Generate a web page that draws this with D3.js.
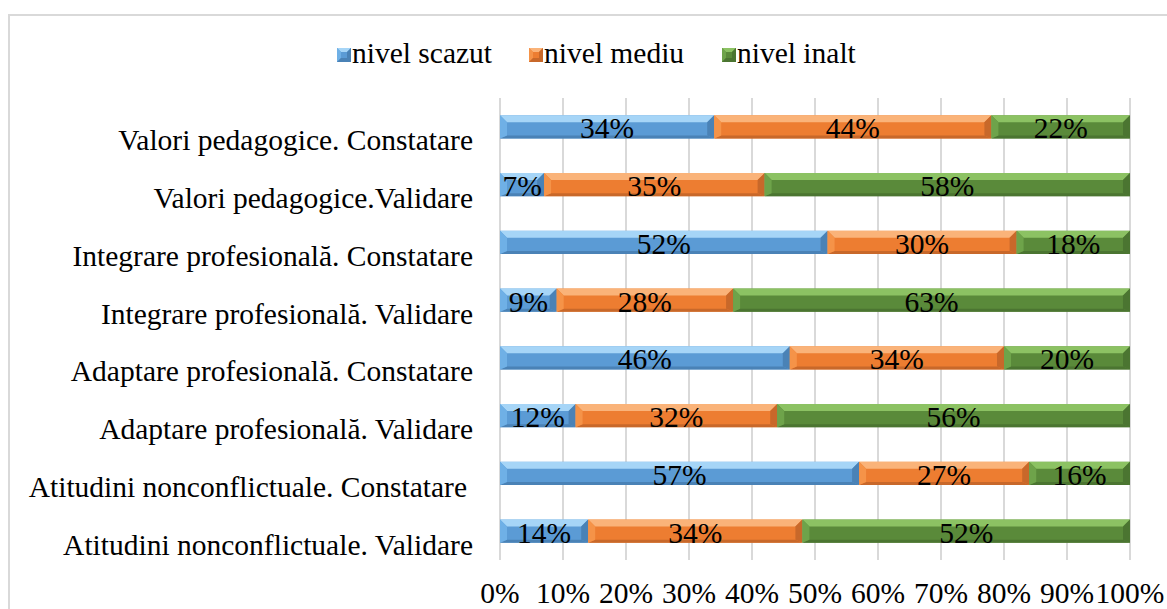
<!DOCTYPE html>
<html>
<head>
<meta charset="utf-8">
<script src="https://cdn.jsdelivr.net/npm/d3@7"></script>
<style>
  body { margin: 0; background: #fff; }
  text { font-family: "Liberation Serif", serif; }
</style>
</head>
<body>
<div id="chart"></div>
<script>
// categories top -> bottom
var categories = [
    "Valori pedagogice. Constatare",
    "Valori pedagogice.Validare",
    "Integrare profesională. Constatare",
    "Integrare profesională. Validare",
    "Adaptare profesională. Constatare",
    "Adaptare profesională. Validare",
    "Atitudini nonconflictuale. Constatare",
    "Atitudini nonconflictuale. Validare"
];
var series_names = ["nivel scazut", "nivel mediu", "nivel inalt"];
var scazut = [34, 7, 52, 9, 46, 12, 57, 14];
var mediu  = [44, 35, 30, 28, 34, 32, 27, 34];
var inalt  = [22, 58, 18, 63, 20, 56, 16, 52];
var ticks = [0, 10, 20, 30, 40, 50, 60, 70, 80, 90, 100];

// main, top highlight, bottom shadow, end bevel
var colors = [
    {main: "#5b9bd5", top: "#a6d5f7", bottom: "#4a82b6", end: "#6fb0e6"},
    {main: "#ed7d31", top: "#fab379", bottom: "#c8682a", end: "#f59348"},
    {main: "#5a8a3a", top: "#8cc263", bottom: "#4b7531", end: "#6ea34a"}
];

var width = 1167, height = 609;
var margin = {top: 98, left: 500, right: 37, bottom: 49};
var font = "Liberation Serif";
var fs = 29.5;

var svg = d3.select("#chart").append("svg")
    .attr("width", width)
    .attr("height", height);

// outer frame
svg.append("rect")
    .attr("x", 9).attr("y", 15)
    .attr("width", 1170).attr("height", 620)
    .attr("fill", "none")
    .attr("stroke", "#d9d9d9")
    .attr("stroke-width", 2);

var x = d3.scaleLinear().domain([0, 100]).range([margin.left, width - margin.right]);
var y = d3.scaleBand().domain(categories)
    .range([margin.top, height - margin.bottom])
    .paddingInner(0.6).paddingOuter(0.3);

// gridlines
svg.append("g").selectAll("line")
    .data(ticks)
    .enter().append("line")
    .attr("x1", function(d) { return x(d); })
    .attr("x2", function(d) { return x(d); })
    .attr("y1", margin.top)
    .attr("y2", height - margin.bottom)
    .attr("stroke", "#d9d9d9")
    .attr("stroke-width", 2);

// stacked data
var rows = categories.map(function(c, i) {
    return {cat: c, vals: [scazut[i], mediu[i], inalt[i]]};
});
var segs = [];
rows.forEach(function(r) {
    var acc = 0;
    r.vals.forEach(function(v, k) {
        segs.push({cat: r.cat, k: k, x0: acc, x1: acc + v, v: v});
        acc += v;
    });
});

var bh = y.bandwidth();
var bev = 7;

var seg = svg.append("g").selectAll(".seg")
    .data(segs)
    .enter().append("g")
    .attr("class", "seg")
    .attr("transform", function(d) {
        return "translate(" + x(d.x0) + "," + y(d.cat) + ")";
    });

seg.append("rect")
    .attr("width", function(d) { return x(d.x1) - x(d.x0); })
    .attr("height", bh)
    .attr("fill", function(d) { return colors[d.k].main; });

// top highlight
seg.append("path")
    .attr("fill", function(d) { return colors[d.k].top; })
    .attr("d", function(d) {
        var w = x(d.x1) - x(d.x0);
        var b = Math.min(bev, w / 2);
        return "M0,0L" + w + ",0L" + (w - b) + "," + b + "L" + b + "," + b + "Z";
    });

// bottom shadow
seg.append("path")
    .attr("fill", function(d) { return colors[d.k].bottom; })
    .attr("d", function(d) {
        var w = x(d.x1) - x(d.x0);
        var b = Math.min(bev, w / 2);
        return "M0," + bh + "L" + w + "," + bh + "L" + (w - b) + "," + (bh - 3) + "L" + b + "," + (bh - 3) + "Z";
    });

// left bevel
seg.append("path")
    .attr("fill", function(d) { return colors[d.k].end; })
    .attr("d", function(d) {
        var w = x(d.x1) - x(d.x0);
        var b = Math.min(bev, w / 2);
        return "M0,0L" + b + "," + b + "L" + b + "," + (bh - 3) + "L0," + bh + "Z";
    });

// right bevel
seg.append("path")
    .attr("fill", function(d) { return colors[d.k].bottom; })
    .attr("d", function(d) {
        var w = x(d.x1) - x(d.x0);
        var b = Math.min(bev, w / 2);
        return "M" + w + ",0L" + (w - b) + "," + b + "L" + (w - b) + "," + (bh - 3) + "L" + w + "," + bh + "Z";
    });

seg.append("text")
    .text(function(d) { return d.v + "%"; })
    .attr("x", function(d) { return (x(d.x1) - x(d.x0)) / 2; })
    .attr("y", bh)
    .attr("text-anchor", "middle")
    .attr("font-family", font)
    .attr("font-size", fs)
    .attr("fill", "#000");

// category labels
svg.append("g").selectAll("text")
    .data(categories)
    .enter().append("text")
    .text(function(d) { return d; })
    .attr("x", function(d, i) { return i === 6 ? 467 : 473; })
    .attr("y", function(d) { return y(d) + bh / 2 + 23.5; })
    .attr("text-anchor", "end")
    .attr("font-family", font)
    .attr("font-size", fs)
    .attr("fill", "#000");

// x tick labels
svg.append("g").selectAll("text")
    .data(ticks)
    .enter().append("text")
    .text(function(d) { return d + "%"; })
    .attr("x", function(d) { return x(d); })
    .attr("y", 603)
    .attr("text-anchor", "middle")
    .attr("font-family", font)
    .attr("font-size", fs)
    .attr("fill", "#000");

// legend
var legend_x = [337, 529, 722];
var lg = svg.append("g").selectAll("g")
    .data(series_names)
    .enter().append("g")
    .attr("transform", function(d, i) { return "translate(" + legend_x[i] + ",48)"; });

lg.append("rect")
    .attr("width", 14).attr("height", 14)
    .attr("fill", function(d, i) { return colors[i].main; });
lg.append("path")
    .attr("fill", function(d, i) { return colors[i].top; })
    .attr("d", "M0,0L14,0L10,4L4,4Z");
lg.append("path")
    .attr("fill", function(d, i) { return colors[i].end; })
    .attr("d", "M0,0L4,4L4,10L0,14Z");
lg.append("path")
    .attr("fill", function(d, i) { return colors[i].bottom; })
    .attr("d", "M14,0L10,4L10,10L14,14ZM0,14L14,14L10,10L4,10Z");

lg.append("text")
    .text(function(d) { return d; })
    .attr("x", 15)
    .attr("y", 15)
    .attr("font-family", font)
    .attr("font-size", fs)
    .attr("fill", "#000");
</script>
</body>
</html>
